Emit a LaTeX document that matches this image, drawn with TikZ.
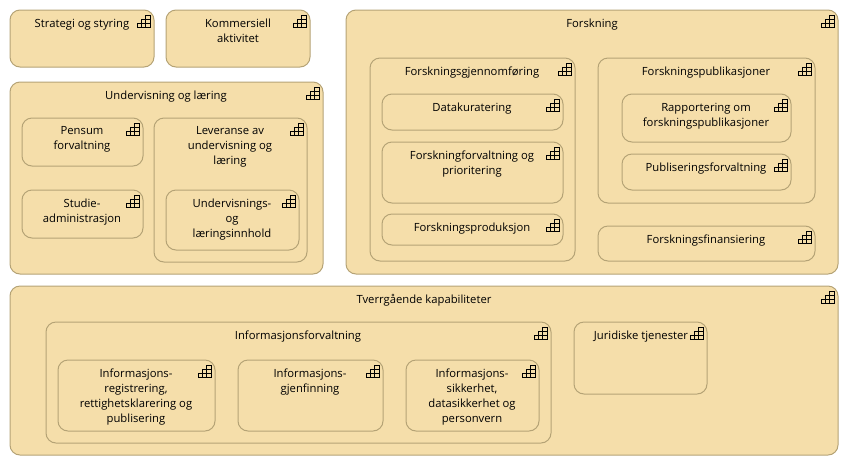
\documentclass[tikz,border=0pt]{standalone}
\usepackage{fontspec}
\setmainfont{Open Sans}
\definecolor{capfill}{RGB}{245,222,170}
\definecolor{capline}{RGB}{181,163,118}
\tikzset{
	capbox/.style={draw=capline, fill=capfill, line width=0.75pt, rounded corners=7.5pt},
	captext/.style={anchor=north, inner sep=0pt, align=center, text=black, font=\fontsize{8.45}{11.25}\selectfont},
	capicon/.pic={
		\draw[black, line width=0.75pt] (-6.5,5.5) rectangle (6.5,1.5);
		\draw[black, line width=0.75pt] (-2,5.5) -- (-2,-2.5) -- (6.5,-2.5);
		\draw[black, line width=0.75pt] (2,5.5) -- (2,-6.5) -- (6.5,-6.5) -- (6.5,1.5);
	}
}
\begin{document}
\begin{tikzpicture}[x=0.75pt, y=-0.75pt]
\useasboundingbox (0,0) rectangle (849,465);
\foreach \nm/\xa/\ya/\xb/\yb/\tx/\txt in {
	strategi/10/10/154/67/82/{Strategi og styring},
	kommersiell/166/10/310/67/238/{Kommersiell\\aktivitet},
	undervisning/10/82/323/274/166/{Undervisning og læring},
	pensum/22/118/143/166/82/{Pensum\\forvaltning},
	leveranse/154/118/307/262/230/{Leveranse av\\undervisning og\\læring},
	innhold/166/190/299/250/232/{Undervisnings-\\og\\læringsinnhold},
	studie/22/190/143/238/82/{Studie-\\administrasjon},
	forskning/346/10/838/274/592/{Forskning},
	gjennomforing/370/58/575/261/472/{Forskningsgjennomføring},
	datakuratering/382/94/563/130/472/{Datakuratering},
	prioritering/382/142/563/203/472/{Forskningforvaltning og\\prioritering},
	produksjon/382/214/563/245/472/{Forskningsproduksjon},
	publikasjoner/598/58/815/203/706/{Forskningspublikasjoner},
	rapportering/622/94/791/142/706/{Rapportering om\\forskningspublikasjoner},
	publisering/622/154/791/190/706/{Publiseringsforvaltning},
	finansiering/598/226/815/261/706/{Forskningsfinansiering},
	tverrgaende/10/286/838/455/424/{Tverrgående kapabiliteter},
	informasjon/46/322/551/443/298/{Informasjonsforvaltning},
	registrering/58/360/215/431/136/{Informasjons-\\registrering,\\rettighetsklarering og\\publisering},
	gjenfinning/238/360/383/431/310/{Informasjons-\\gjenfinning},
	sikkerhet/406/360/539/431/472/{Informasjons-\\sikkerhet,\\datasikkerhet og\\personvern},
	juridiske/574/322/707/394/641/{Juridiske tjenester}}
{
	\draw[capbox] (\xa,\ya) rectangle (\xb,\yb);
	\node[captext] (\nm) at (\tx,\ya+8.5) {\txt};
	\pic at (\xb-10.5,\ya+11.5) {capicon};
}
\end{tikzpicture}
\end{document}
